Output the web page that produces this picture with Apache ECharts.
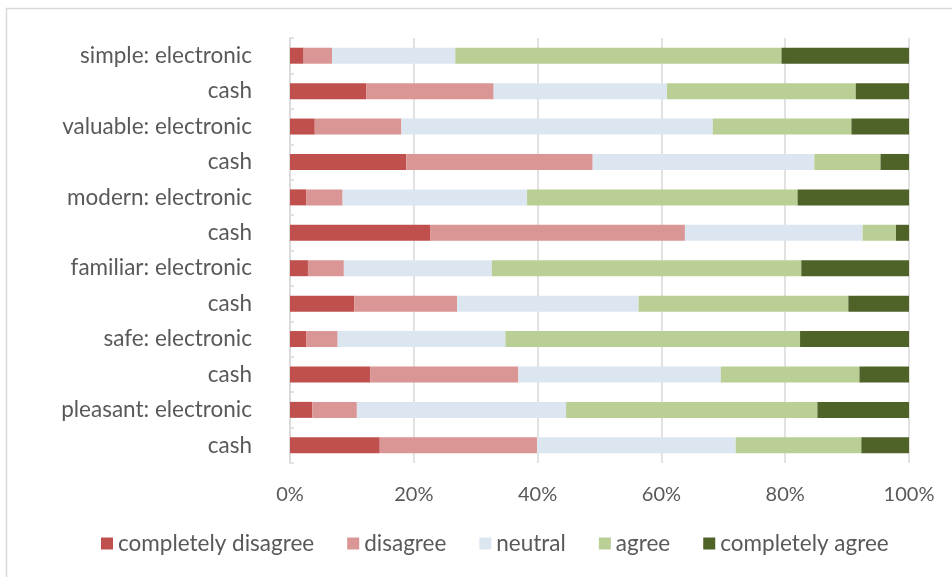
<!DOCTYPE html>
<html>
<head>
<meta charset="utf-8">
<script src="https://cdn.jsdelivr.net/npm/echarts@6/dist/echarts.min.js"></script>
<style>
  html, body { margin: 0; padding: 0; background: #ffffff; }
  #chart { width: 952px; height: 577px; }
</style>
</head>
<body>
<div id="chart"></div>
<script>
// Item labels, top to bottom
const categories = [
  'simple: electronic', 'cash',
  'valuable: electronic', 'cash',
  'modern: electronic', 'cash',
  'familiar: electronic', 'cash',
  'safe: electronic', 'cash',
  'pleasant: electronic', 'cash'
];

// Share of answers per response level (%), same order as categories
const completelyDisagree = [2.2, 12.3, 4.0, 18.8, 2.6, 22.7, 2.9, 10.4, 2.6, 13.0, 3.6, 14.5];
const disagree           = [4.6, 20.6, 14.0, 30.1, 5.9, 41.1, 5.8, 16.6, 5.1, 23.9, 7.2, 25.4];
const neutral            = [19.9, 28.0, 50.3, 35.8, 29.8, 28.7, 23.9, 29.3, 27.1, 32.7, 33.8, 32.1];
const agree              = [52.7, 30.5, 22.4, 10.7, 43.7, 5.4, 50.0, 33.9, 47.6, 22.4, 40.6, 20.3];
const completelyAgree    = [20.6, 8.6, 9.3, 4.6, 18.0, 2.1, 17.4, 9.8, 17.6, 8.0, 14.8, 7.7];

const seriesNames = ['completely disagree', 'disagree', 'neutral', 'agree', 'completely agree'];
const seriesData = [completelyDisagree, disagree, neutral, agree, completelyAgree];
const seriesColors = ['#C0504D', '#DA9694', '#DCE6F1', '#B9CF96', '#4F6228'];

const FONT = 'Lato';
const TEXT = '#595959';
const LINE = '#D9D9D9';

const chart = echarts.init(document.getElementById('chart'), null, { renderer: 'canvas' });

chart.setOption({
  animation: false,
  backgroundColor: '#ffffff',
  textStyle: { fontFamily: FONT, color: TEXT },
  graphic: [{
    type: 'rect',
    silent: true,
    shape: { x: 6.5, y: 8.5, width: 1000, height: 700 },
    style: { fill: 'none', stroke: LINE, lineWidth: 1.5 }
  }],
  grid: { left: 290, right: 43, top: 38, bottom: 114, containLabel: false },
  legend: {
    bottom: 17,
    left: 96,
    itemWidth: 12,
    itemHeight: 12,
    itemGap: 33,
    icon: 'rect',
    textStyle: { fontFamily: FONT, fontSize: 22.5, color: TEXT },
    data: seriesNames
  },
  xAxis: {
    type: 'value',
    min: 0,
    max: 100,
    interval: 20,
    axisLine: { show: false },
    axisTick: { show: false },
    splitLine: { show: true, lineStyle: { color: LINE, width: 1.5 } },
    axisLabel: {
      formatter: v => v + '%',
      fontFamily: FONT, fontSize: 20, color: TEXT, margin: 22
    }
  },
  yAxis: {
    type: 'category',
    inverse: true,
    data: categories,
    axisLine: { show: true, lineStyle: { color: LINE, width: 1.5 } },
    axisTick: { show: true, inside: true, length: 4, lineStyle: { color: LINE, width: 1.5 } },
    axisLabel: { fontFamily: FONT, fontSize: 22.5, color: TEXT, margin: 38 }
  },
  series: seriesNames.map((name, i) => ({
    name,
    type: 'bar',
    stack: 'total',
    barWidth: 16,
    itemStyle: { color: seriesColors[i] },
    data: seriesData[i]
  }))
});
</script>
</body>
</html>
